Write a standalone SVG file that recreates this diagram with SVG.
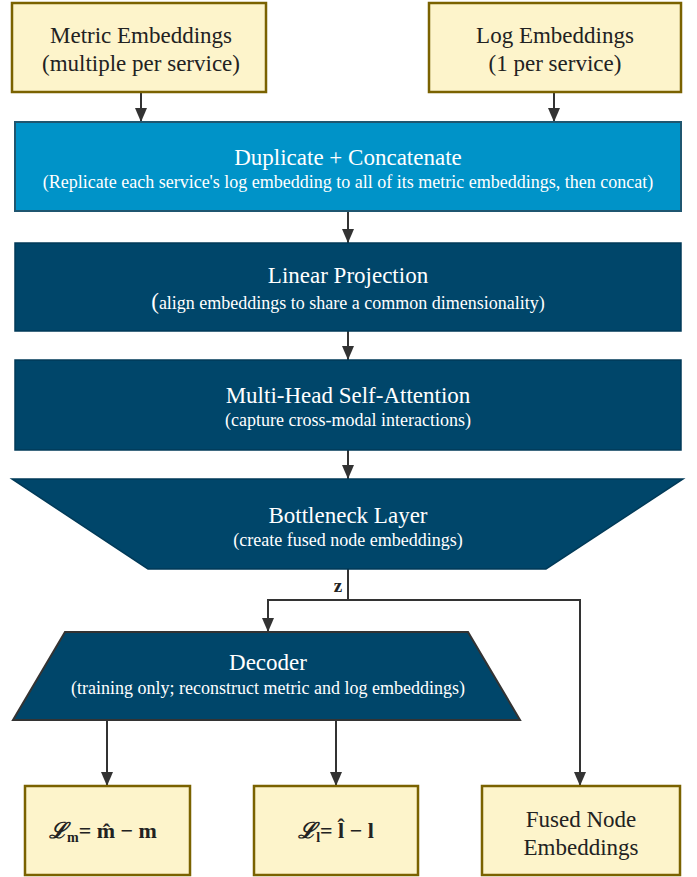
<svg xmlns="http://www.w3.org/2000/svg" width="697" height="877" viewBox="0 0 697 877" font-family="Liberation Serif">
<defs>
<marker id="ah" markerWidth="14" markerHeight="12" refX="14" refY="6" orient="auto" markerUnits="userSpaceOnUse" viewBox="0 0 14 12">
<path d="M0,0 L14,6 L0,12 Z" fill="#333"/>
</marker>
<style>
.y{fill:#fdf4cb;stroke:#7a6200;stroke-width:2.5}
.b{fill:#0093c8;stroke:#1f5670;stroke-width:2}
.d{fill:#00466a;stroke:#003a58;stroke-width:1.5}
.dt{fill:#00466a;stroke:#333;stroke-width:2}
.c{fill:none;stroke:#333;stroke-width:2}
.t,.w,.ws,.f{font-family:'Liberation Serif',serif;text-anchor:middle}
.t{fill:#222}
.w,.ws{fill:#fff}
.f{font-weight:bold;fill:#222}
</style>
</defs>
<g id="connectors">
<line class="c" x1="141" y1="92" x2="141" y2="122" marker-end="url(#ah)"/>
<line class="c" x1="554" y1="92" x2="554" y2="122" marker-end="url(#ah)"/>
<line class="c" x1="348" y1="211" x2="348" y2="243" marker-end="url(#ah)"/>
<line class="c" x1="348" y1="331" x2="348" y2="360" marker-end="url(#ah)"/>
<line class="c" x1="348" y1="450" x2="348" y2="479" marker-end="url(#ah)"/>
<polyline class="c" points="348,569 348,600 268,600 268,632" marker-end="url(#ah)"/>
<polyline class="c" points="348,600 580,600 580,786" marker-end="url(#ah)"/>
<line class="c" x1="107" y1="720" x2="107" y2="786" marker-end="url(#ah)"/>
<line class="c" x1="336" y1="720" x2="336" y2="786" marker-end="url(#ah)"/>
<text class="f" x="338" y="592" font-size="19">z</text>
</g>
<g id="metric">
<rect class="y" x="12" y="3" width="254" height="89"/>
<text class="t" x="141" y="43" font-size="23">Metric Embeddings</text>
<text class="t" x="141" y="71" font-size="23">(multiple per service)</text>
</g>
<g id="log">
<rect class="y" x="429" y="3" width="252" height="89"/>
<text class="t" x="555" y="43" font-size="23">Log Embeddings</text>
<text class="t" x="555" y="71" font-size="23">(1 per service)</text>
</g>
<g id="dup">
<rect class="b" x="15" y="122" width="666" height="89"/>
<text class="w" x="348" y="165" font-size="23">Duplicate + Concatenate</text>
<text class="ws" x="348" y="188" font-size="18">(Replicate each service's log embedding to all of its metric embeddings, then concat)</text>
</g>
<g id="linear">
<rect class="d" x="15" y="243" width="666" height="88"/>
<text class="w" x="348" y="283" font-size="23">Linear Projection</text>
<text class="ws" x="348" y="309" font-size="18"><tspan font-size="23">(</tspan>align embeddings to share a common dimensionality)</text>
</g>
<g id="mhsa">
<rect class="d" x="15" y="360" width="666" height="90"/>
<text class="w" x="348" y="403" font-size="23">Multi-Head Self-Attention</text>
<text class="ws" x="348" y="426" font-size="18">(capture cross-modal interactions)</text>
</g>
<g id="bottleneck">
<polygon class="d" points="12,479 683,479 546,569 148,569"/>
<text class="w" x="348" y="523" font-size="23">Bottleneck Layer</text>
<text class="ws" x="348" y="546" font-size="18">(create fused node embeddings)</text>
</g>
<g id="decoder">
<polygon class="dt" points="65,632 468,632 520,720 13,720"/>
<text class="w" x="268" y="670" font-size="23">Decoder</text>
<text class="ws" x="268" y="694" font-size="18">(training only; reconstruct metric and log embeddings)</text>
</g>
<g id="lossm">
<rect class="y" x="25" y="786" width="165" height="89"/>
<text class="f" x="103" y="838" font-size="22"><tspan font-style="italic">ℒ</tspan><tspan font-size="14" dy="4">m</tspan><tspan dy="-4">= m̂ − m</tspan></text>
</g>
<g id="lossl">
<rect class="y" x="254" y="786" width="164" height="89"/>
<text class="f" x="336" y="838" font-size="22"><tspan font-style="italic">ℒ</tspan><tspan font-size="14" dy="4">l</tspan><tspan dy="-4">= l̂ − l</tspan></text>
</g>
<g id="fused">
<rect class="y" x="482" y="786" width="198" height="89"/>
<text class="t" x="581" y="827" font-size="23">Fused Node</text>
<text class="t" x="581" y="855" font-size="23">Embeddings</text>
</g>
</svg>
